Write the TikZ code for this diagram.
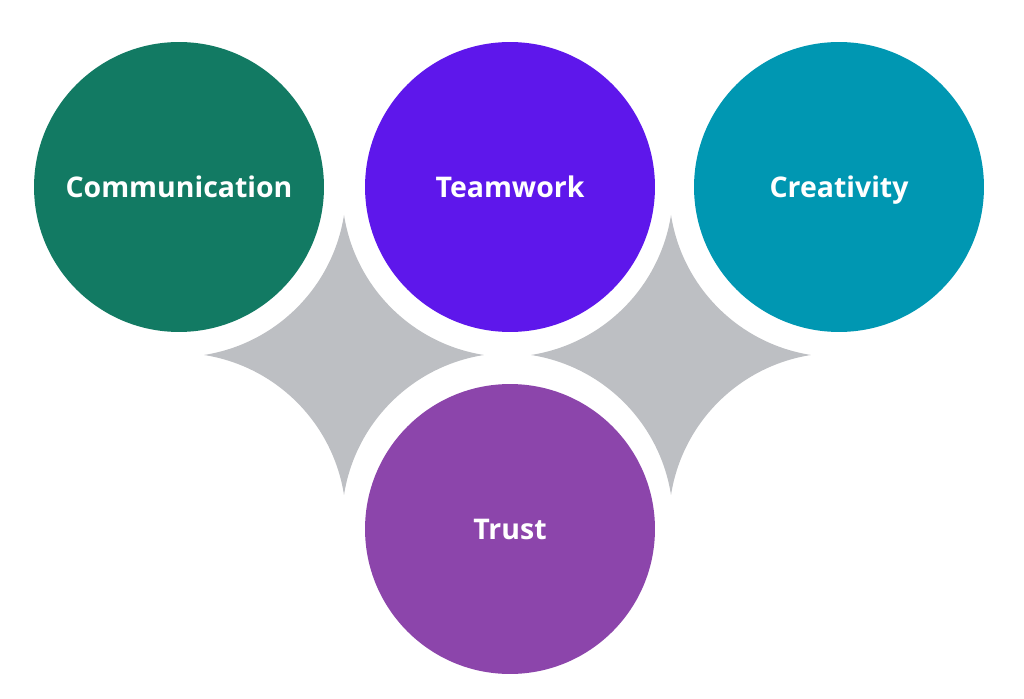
\documentclass[tikz,border=0pt]{standalone}
\usepackage{fontspec}
\setmainfont{Open Sans}
\usepackage{tikz}
\usetikzlibrary{positioning}
\definecolor{skillGreen}{RGB}{18,122,99}
\definecolor{skillViolet}{RGB}{94,23,235}
\definecolor{skillTeal}{RGB}{0,151,178}
\definecolor{skillPurple}{RGB}{140,69,171}
\definecolor{skillGray}{RGB}{189,191,195}

\begin{document}
\begin{tikzpicture}[
    x=0.02cm, y=0.02cm,
    bubble/.style={circle, inner sep=0pt, minimum size=5.8cm, draw=none, text=white, text height=15.4pt, text depth=4pt, font=\fontsize{16.2}{18}\selectfont\bfseries},
    sparkle/.style={fill=skillGray, draw=none}
]
\useasboundingbox (0,0) rectangle (1024,-699);

% Sparkle Centres
\coordinate (sparkleL) at (344,-355);
\coordinate (sparkleR) at (671,-355);

% Four-Point Sparkles
\foreach \c in {sparkleL, sparkleR} {
  \fill[sparkle, shift={(\c)}] (0,140)
    arc[start angle=-8.9, end angle=-81.1, radius=168]
    arc[start angle=81.1, end angle=8.9, radius=168]
    arc[start angle=171.1, end angle=98.9, radius=168]
    arc[start angle=261.1, end angle=188.9, radius=168] -- cycle;
}

% Skill Bubbles
\node (comm) [bubble, fill=skillGreen] at (179,-187) {Communication};
\node (team) [bubble, fill=skillViolet] at (510,-187) {Teamwork};
\node (crea) [bubble, fill=skillTeal] at (839,-187) {Creativity};
\node (trust) [bubble, fill=skillPurple] at (510,-529) {Trust};

\end{tikzpicture}
\end{document}
